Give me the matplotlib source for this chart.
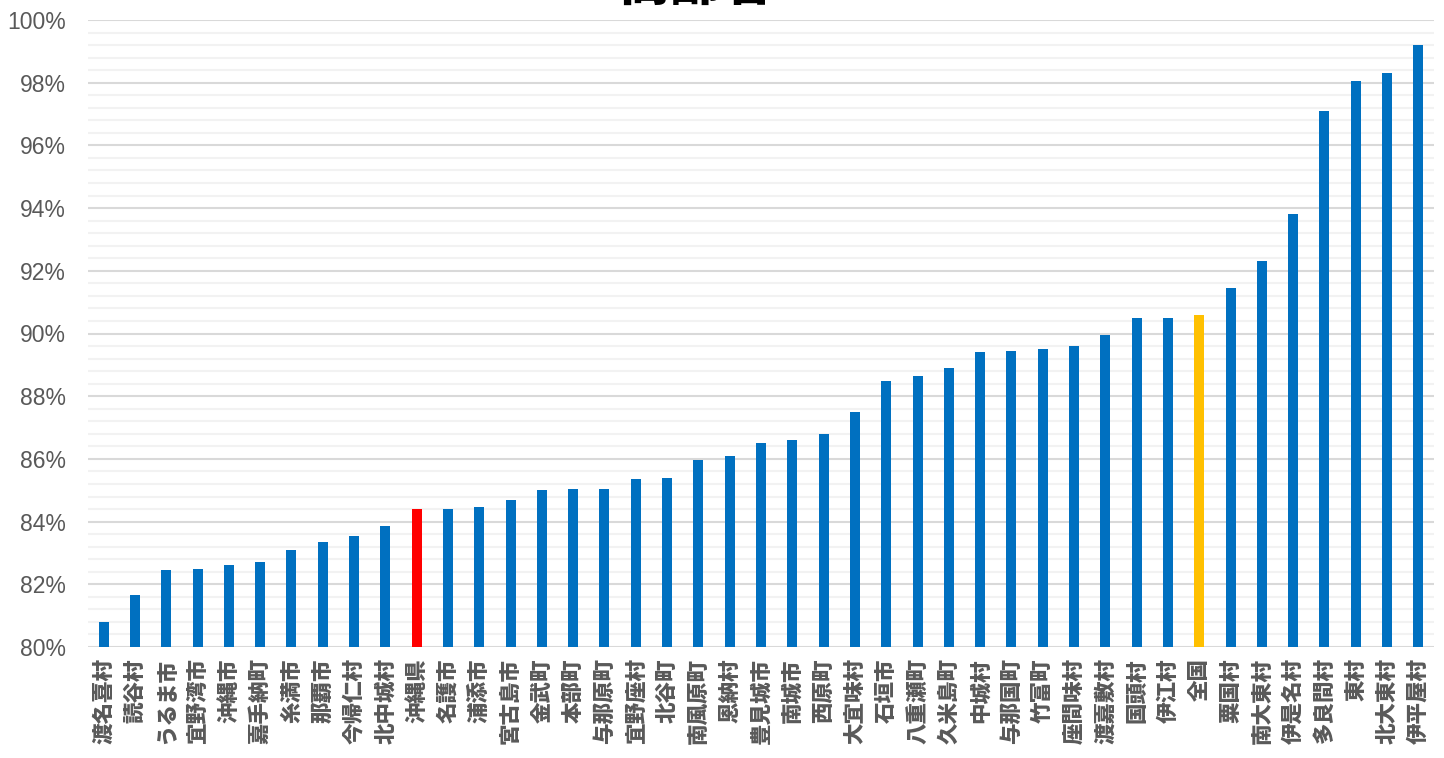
import matplotlib
matplotlib.use("Agg")
import matplotlib.pyplot as plt
from matplotlib.ticker import MultipleLocator, FuncFormatter

plt.rcParams['font.family'] = ['Noto Sans CJK JP', 'DejaVu Sans']

categories = ["渡名喜村", "読谷村", "うるま市", "宜野湾市", "沖縄市", "嘉手納町", "糸満市", "那覇市",
              "今帰仁村", "北中城村", "沖縄県", "名護市", "浦添市", "宮古島市", "金武町", "本部町",
              "与那原町", "宜野座村", "北谷町", "南風原町", "恩納村", "豊見城市", "南城市", "西原町",
              "大宜味村", "石垣市", "八重瀬町", "久米島町", "中城村", "与那国町", "竹富町", "座間味村",
              "渡嘉敷村", "国頭村", "伊江村", "全国", "粟国村", "南大東村", "伊是名村", "多良間村",
              "東村", "北大東村", "伊平屋村"]
values = [80.8, 81.65, 82.45, 82.5, 82.6, 82.7, 83.1, 83.35,
          83.55, 83.85, 84.4, 84.4, 84.45, 84.7, 85.0, 85.05,
          85.05, 85.35, 85.4, 85.95, 86.1, 86.5, 86.6, 86.8,
          87.5, 88.5, 88.65, 88.9, 89.4, 89.45, 89.5, 89.6,
          89.95, 90.5, 90.5, 90.6, 91.45, 92.3, 93.8, 97.1,
          98.05, 98.3, 99.2]
title = "高齢者"

colors = []
for c in categories:
    if c == "沖縄県":
        colors.append("#FF0000")
    elif c == "全国":
        colors.append("#FFC000")
    else:
        colors.append("#0070C0")

fig = plt.figure(figsize=(14.44, 7.58), dpi=100)
ax = fig.add_axes([88/1444, 1-647/758, (1434-88)/1444, (647-20)/758])

x = list(range(len(categories)))
ax.bar(x, values, width=0.32, color=colors, zorder=3)

ax.set_xlim(-0.5, len(categories)-0.5)
ax.set_ylim(80, 100)
ax.yaxis.set_major_locator(MultipleLocator(2))
ax.yaxis.set_minor_locator(MultipleLocator(0.4))
ax.yaxis.set_major_formatter(FuncFormatter(lambda v, p: f"{v:.0f}%"))
ax.grid(axis='y', which='major', color='#D9D9D9', linewidth=1.5, zorder=0)
ax.grid(axis='y', which='minor', color='#F2F2F2', linewidth=1.5, zorder=0)
for s in ax.spines.values():
    s.set_visible(False)
ax.tick_params(axis='both', which='both', length=0)
ax.tick_params(axis='y', pad=16, labelsize=16.5, labelcolor='#595959')
for lab in ax.get_yticklabels():
    lab.set_family(['Liberation Sans', 'DejaVu Sans'])

ax.set_xticks(x)
ax.set_xticklabels(categories, rotation=90, fontsize=15.5, fontweight='black', color='#595959',
                   va='top', ha='center')
ax.tick_params(axis='x', pad=8)

fig.text(696/1444, 1-11/758, title, ha='center', va='bottom', fontsize=37,
         fontweight='black', color='black')

fig.savefig("out.png", dpi=100)
